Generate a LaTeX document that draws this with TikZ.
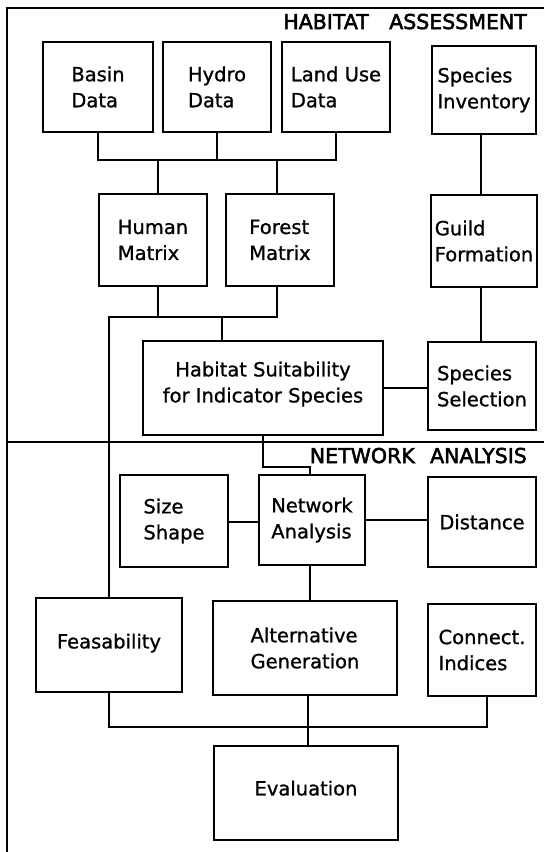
\documentclass[tikz,border=0pt]{standalone}
\usepackage{fontspec}
\setmainfont[FakeBold=1]{DejaVu Sans}
\newfontfamily\headfont[FakeBold=2.5]{DejaVu Sans}
\begin{document}
\begin{tikzpicture}[x=1pt,y=-1pt,
  box/.style={draw, line width=2pt, inner sep=0pt, align=left,
    font=\fontsize{19.5}{26}\selectfont},
  link/.style={line width=2pt},
  frame/.style={line width=2pt},
  heading/.style={inner sep=0pt, font=\headfont\fontsize{20.5}{24}\selectfont},
]
\useasboundingbox (0,0) rectangle (544,852);

% outer frame and the separator between the two stages
\coordinate (ftl) at (7,8);
\coordinate (ftr) at (544,8);
\coordinate (fbl) at (7,852);
\coordinate (sepl) at (7,442);
\coordinate (sepr) at (544,442);
\draw[frame] (ftr) -- (ftl) -- (fbl);
\draw[frame] (sepl) -- (sepr);

% stage headings
\node[heading, anchor=base east] (hab) at (527,29) {HABITAT\hspace{1em}ASSESSMENT};
\node[heading, anchor=base east] (net) at (527,463) {NETWORK\hspace{0.75em}ANALYSIS};

% habitat assessment boxes
\node[box, minimum width=110pt, minimum height=90pt] (basin)   at (98,87)  {Basin\\Data};
\node[box, minimum width=108pt, minimum height=90pt] (hydro)   at (217,87) {Hydro\\Data};
\node[box, minimum width=108pt, minimum height=90pt] (landuse) at (336,87) {Land Use\\Data};
\node[box, minimum width=104pt, minimum height=88pt] (invent)  at (484,90) {Species\\Inventory};
\node[box, minimum width=108pt, minimum height=92pt] (human)   at (153,240) {Human\\Matrix};
\node[box, minimum width=108pt, minimum height=92pt] (forest)  at (280,240) {Forest\\Matrix};
\node[box, minimum width=106pt, minimum height=92pt] (guild)   at (484,241) {Guild\\Formation};
\node[box, align=center, minimum width=240pt, minimum height=94pt, text depth=12pt] (habitat) at (263,388)
  {Habitat Suitability\\for Indicator Species};
\node[box, minimum width=108pt, minimum height=88pt] (specsel) at (482,386) {Species\\Selection};

% network analysis boxes
\node[box, minimum width=108pt, minimum height=92pt] (size)     at (174,521) {Size\\Shape};
\node[box, minimum width=106pt, minimum height=90pt] (network)  at (312,520) {Network\\Analysis};
\node[box, minimum width=108pt, minimum height=90pt] (distance) at (482,522) {Distance};
\node[box, minimum width=146pt, minimum height=94pt, text depth=8pt] (feas) at (109,645) {Feasability};
\node[box, minimum width=184pt, minimum height=94pt] (alt)      at (305,648) {Alternative\\Generation};
\node[box, minimum width=108pt, minimum height=92pt] (conn)     at (482,650) {Connect.\\Indices};
\node[box, minimum width=184pt, minimum height=94pt, text depth=10pt] (eval) at (306,793) {Evaluation};

% bus lines
\coordinate (busA) at (0,160);
\coordinate (busB) at (0,317);
\coordinate (busC) at (0,727);
\coordinate (hsin) at (222,317);

% data layers feed the two matrices
\draw[link] (basin.south) -- (basin.south |- busA) -- (landuse.south |- busA) -- (landuse.south);
\draw[link] (hydro.south) -- (hydro.south |- busA);
\draw[link] ([xshift=5pt]human.north) -- ([xshift=5pt]human.north |- busA);
\draw[link] ([xshift=-3pt]forest.north) -- ([xshift=-3pt]forest.north |- busA);

% matrices feed habitat suitability and feasability
\draw[link] ([xshift=5pt]human.south) -- ([xshift=5pt]human.south |- busB);
\draw[link] ([xshift=-3pt]forest.south) -- ([xshift=-3pt]forest.south |- busB)
  -- (feas.north |- busB) -- (feas.north);
\draw[link] (hsin) -- (hsin |- habitat.north);

% species chain
\draw[link] ([xshift=-3pt]invent.south) -- ([xshift=-3pt]invent.south |- guild.north);
\draw[link] ([xshift=-3pt]guild.south) -- ([xshift=-3pt]guild.south |- specsel.north);
\draw[link] (habitat.east) -- (habitat.east -| specsel.west);

% habitat suitability into network analysis
\draw[link] (habitat.south) -- ++(0,31) -| ([xshift=-2pt]network.north);
\draw[link] ([yshift=-1pt]size.east) -- ([yshift=-1pt]size.east -| network.west);
\draw[link] (network.east) -- (network.east -| distance.west);
\draw[link] ([xshift=-2pt]network.south) -- ([xshift=-2pt]network.south |- alt.north);

% evaluation
\draw[link] (feas.south) -- (feas.south |- busC) -- ([xshift=5pt]conn.south |- busC) -- ([xshift=5pt]conn.south);
\draw[link] ([xshift=3pt]alt.south) -- ([xshift=3pt]alt.south |- eval.north);
\end{tikzpicture}
\end{document}
